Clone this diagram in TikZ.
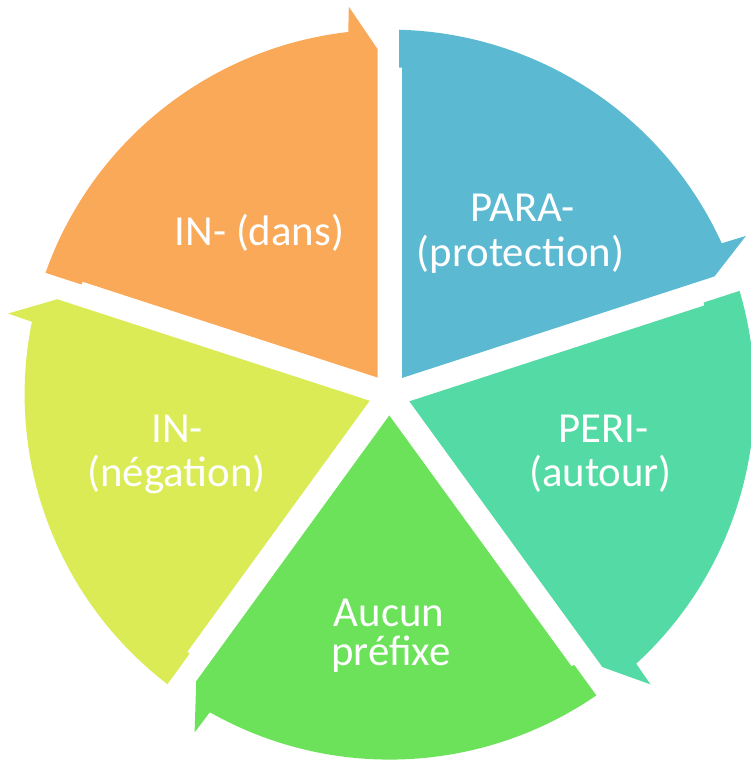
\documentclass[tikz,border=0pt]{standalone}
\usepackage{fontspec}
\setmainfont{Carlito}
\definecolor{segorange}{RGB}{249,169,88}
\definecolor{segblue}{RGB}{91,185,209}
\definecolor{segteal}{RGB}{84,218,164}
\definecolor{seggreen}{RGB}{108,226,90}
\definecolor{segyellow}{RGB}{218,235,86}
\tikzset{
  lbl/.style={text=white, inner sep=0pt, anchor=base, font=\fontsize{42.8}{46}\selectfont},
}
\newcommand{\cycseg}[3]{%
  \begin{scope}[rotate=#2]
    \fill[#1] (-12,17.04) coordinate (#3v) -- (-12,345.5) coordinate (#3t)
      -- (96:390) coordinate (#3b) -- (96.5:365) coordinate (#3a)
      arc[start angle=96.5, end angle=160.51, radius=365]
      -- (-308.1,110.1) -- (-307.1,112.9) -- cycle;
  \end{scope}}
\begin{document}
\begin{tikzpicture}[x=1pt,y=1pt]
\useasboundingbox (-389.6,-368.4) rectangle (361.4,394.6);
\cycseg{segorange}{0}{o}
\cycseg{segblue}{-72}{p}
\cycseg{segteal}{-144}{q}
\cycseg{seggreen}{-216}{r}
\cycseg{segyellow}{-288}{s}
\node[lbl] (indans) at (-130.1,148.6) {IN- (dans)};
\node[lbl] (para1) at (132.9,172.6) {PARA-};
\node[lbl] (para2) at (130.9,127.6) {(protection)};
\node[lbl] (peri1) at (213.9,-48.1) {PERI-};
\node[lbl] (peri2) at (210.9,-92.1) {(autour)};
\node[lbl] (aucun1) at (-0.6,-231.4) {Aucun};
\node[lbl] (aucun2) at (1.4,-270.4) {préfixe};
\node[lbl] (neg1) at (-212.6,-48.1) {IN-};
\node[lbl] (neg2) at (-213.1,-92.1) {(négation)};
\end{tikzpicture}
\end{document}
